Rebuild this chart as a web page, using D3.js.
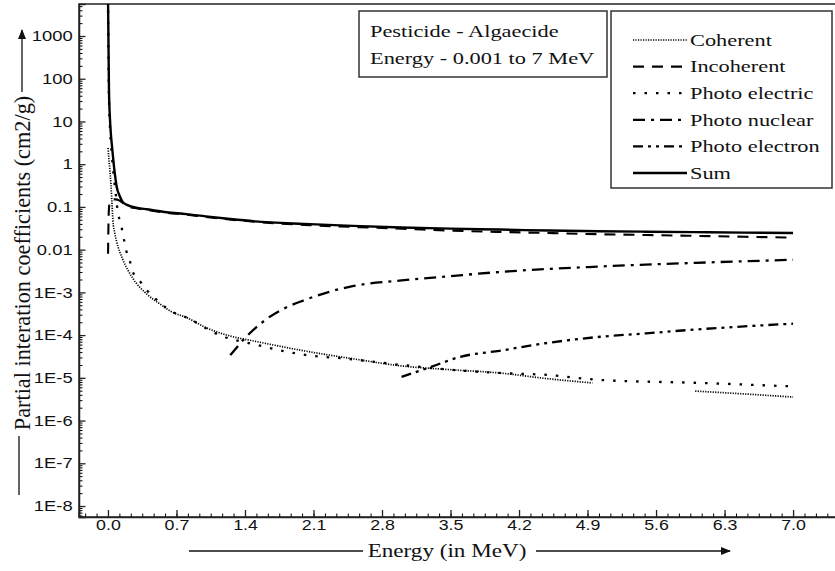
<!DOCTYPE html>
<html>
<head>
<meta charset="utf-8">
<script src="https://cdn.jsdelivr.net/npm/d3@7"></script>
<style>
body { margin: 0; background: #fff; }
text { fill: #111; }
.tick text { font-family: "Liberation Sans", Arial, sans-serif; }
.serif { font-family: "Liberation Serif", "Times New Roman", serif; }
</style>
</head>
<body>
<svg id="chart" width="835" height="571"></svg>
<script>
// horizontal stretch of the original picture's lettering
var SX = 1.27;

var xTicks = [0, 0.7, 1.4, 2.1, 2.8, 3.5, 4.2, 4.9, 5.6, 6.3, 7.0];
var yTicks = [1e3, 1e2, 1e1, 1, 1e-1, 1e-2, 1e-3, 1e-4, 1e-5, 1e-6, 1e-7, 1e-8];
var yTickLabels = ['1000', '100', '10', '1', '0.1', '0.01', '1E-3', '1E-4', '1E-5', '1E-6', '1E-7', '1E-8'];
var seriesNames = ['Coherent', 'Incoherent', 'Photo electric', 'Photo nuclear', 'Photo electron', 'Sum'];

var coherentE = [0.001, 0.01, 0.02, 0.03, 0.04, 0.05, 0.07, 0.09, 0.15, 0.25, 0.4, 0.55, 0.65, 0.8, 1.0, 1.25, 1.5, 2.0, 2.5, 3.0, 3.5, 4.0, 4.5, 4.95, 5.5, 6.0, 6.5, 7.0];
var coherentV = [2.4, 1.3, 0.7, 0.35, 0.13, 0.05, 0.024, 0.015, 0.006, 0.0022, 9e-4, 5e-4, 3.5e-4, 2.6e-4, 1.5e-4, 9.5e-5, 7.2e-5, 4.3e-5, 2.8e-5, 1.9e-5, 1.55e-5, 1.3e-5, 9.5e-6, 7.6e-6, null, 4.9e-6, 4.2e-6, 3.55e-6];

var incoherentE = [0.001, 0.003, 0.006, 0.01, 0.02, 0.04, 0.08, 0.12, 0.2, 0.3, 0.4, 0.6, 0.8, 1.0, 1.5, 2.0, 2.5, 3.0, 3.5, 4.0, 4.5, 5.0, 5.5, 6.0, 6.5, 7.0];
var incoherentV = [0.008, 0.02, 0.05, 0.09, 0.13, 0.15, 0.15, 0.14, 0.105, 0.092, 0.085, 0.073, 0.066, 0.058, 0.045, 0.038, 0.034, 0.031, 0.028, 0.026, 0.0245, 0.023, 0.022, 0.021, 0.02, 0.0192];

var photoElectricE = [0.001, 0.01, 0.02, 0.04, 0.06, 0.08, 0.1, 0.13, 0.16, 0.19, 0.22, 0.26, 0.3, 0.4, 0.48, 0.63, 0.8, 1.14, 1.52, 2.03, 2.44, 3.0, 3.57, 4.0, 4.49, 5.03, 6.05, 6.92, 7.0];
var photoElectricV = [4000, 40, 8, 1.6, 0.5, 0.2, 0.076, 0.042, 0.019, 0.0088, 0.0057, 0.0028, 0.0022, 0.0011, 7.3e-4, 3.8e-4, 2.6e-4, 1.0e-4, 5.9e-5, 3.4e-5, 2.8e-5, 2.0e-5, 1.5e-5, 1.3e-5, 1.17e-5, 8.9e-6, 7.6e-6, 6.4e-6, 6.3e-6];

var photoNuclearE = [1.25, 1.4, 1.6, 1.8, 2.0, 2.5, 3.0, 3.5, 4.0, 5.0, 6.0, 7.0];
var photoNuclearV = [3.4e-5, 8.5e-5, 2.2e-4, 4.2e-4, 6.5e-4, 1.4e-3, 1.9e-3, 2.4e-3, 3.0e-3, 4.0e-3, 4.9e-3, 5.8e-3];

var photoElectronE = [3.0, 3.3, 3.6, 4.0, 4.5, 5.0, 5.5, 6.0, 6.5, 7.0];
var photoElectronV = [1.05e-5, 1.8e-5, 3.1e-5, 4.3e-5, 6.6e-5, 9.0e-5, 1.1e-4, 1.35e-4, 1.6e-4, 1.85e-4];

var sumE = [0.001, 0.01, 0.02, 0.03, 0.04, 0.05, 0.07, 0.09, 0.12, 0.15, 0.2, 0.3, 0.4, 0.6, 0.8, 1.0, 1.25, 1.5, 2.0, 2.5, 3.0, 3.5, 4.0, 4.5, 5.0, 5.5, 6.0, 6.5, 7.0];
var sumV = [6000, 60, 12, 5, 2.8, 1.6, 0.6, 0.29, 0.18, 0.13, 0.11, 0.095, 0.088, 0.075, 0.068, 0.06, 0.052, 0.046, 0.04, 0.036, 0.033, 0.031, 0.0295, 0.028, 0.027, 0.0263, 0.0257, 0.025, 0.0245];

function zip(es, vs){
	return es.map(function(e, i){ return {e: e, v: vs[i]}; });
}

var series = [
	{name: seriesNames[0], data: zip(coherentE, coherentV), dash: '1.2,1.3', width: 1.7},
	{name: seriesNames[1], data: zip(incoherentE, incoherentV), dash: '11,8', width: 2.1},
	{name: seriesNames[2], data: zip(photoElectricE, photoElectricV), dash: '2.5,9', width: 2.3},
	{name: seriesNames[3], data: zip(photoNuclearE, photoNuclearV), dash: '12,6,3,6', width: 2.3},
	{name: seriesNames[4], data: zip(photoElectronE, photoElectronV), dash: '10,5,3,5,3,5', width: 2.3},
	{name: seriesNames[5], data: zip(sumE, sumV), dash: null, width: 2.4}
];

var svg = d3.select('#chart');
var plotLeft = 79, plotTop = 4, plotBottom = 517, plotRight = 842;

var x = d3.scaleLinear().domain([-0.296, 7.5]).range([plotLeft, plotRight]);
var y = d3.scaleLog().domain([Math.pow(10, -8.257), Math.pow(10, 3.749)]).range([plotBottom, plotTop]);

var defs = svg.append('defs');
defs.append('clipPath').attr('id', 'plot-clip')
	.append('rect')
	.attr('x', plotLeft).attr('y', plotTop)
	.attr('width', plotRight - plotLeft).attr('height', plotBottom - plotTop);

var arrow = defs.append('marker')
	.attr('id', 'arrowhead')
	.attr('viewBox', '0 0 10 8')
	.attr('refX', 9).attr('refY', 4)
	.attr('markerWidth', 10).attr('markerHeight', 8)
	.attr('markerUnits', 'userSpaceOnUse')
	.attr('orient', 'auto');
arrow.append('path').attr('d', 'M0,0 L10,4 L0,8 Z').attr('fill', '#111');

// frame
svg.append('rect')
	.attr('x', plotLeft).attr('y', plotTop)
	.attr('width', plotRight - plotLeft).attr('height', plotBottom - plotTop)
	.attr('fill', 'none').attr('stroke', '#222').attr('stroke-width', 1.5);

// minor ticks along x
var minorX = d3.range(-2, 64).map(function(i){ return i * 0.7 / 6; })
	.filter(function(v){ return x(v) > plotLeft + 1 && x(v) < plotRight; });

svg.append('g')
	.attr('transform', 'translate(0,' + plotBottom + ')')
	.call(d3.axisBottom(x).tickValues(minorX).tickSize(-3.5).tickFormat(''))
	.call(function(g){ g.select('.domain').remove(); });

var xAxis = svg.append('g')
	.attr('transform', 'translate(0,' + plotBottom + ')')
	.call(d3.axisBottom(x).tickValues(xTicks).tickSize(-7).tickPadding(3)
		.tickFormat(d3.format('.1f')));
xAxis.select('.domain').attr('stroke', '#222').attr('stroke-width', 1.5);
xAxis.selectAll('.tick line').attr('stroke', '#222').attr('stroke-width', 1.3);
xAxis.selectAll('.tick text')
	.attr('font-size', 14)
	.attr('transform', 'scale(' + SX + ',1)');

// minor log ticks along y
var minorY = [];
d3.range(-9, 4).forEach(function(p){
	d3.range(2, 10).forEach(function(m){ minorY.push(m * Math.pow(10, p)); });
});
minorY = minorY.filter(function(v){ return y(v) > plotTop && y(v) < plotBottom; });

svg.append('g')
	.attr('transform', 'translate(' + plotLeft + ',0)')
	.call(d3.axisLeft(y).tickValues(minorY).tickSize(-3.5).tickFormat(''))
	.call(function(g){ g.select('.domain').remove(); });

var yAxis = svg.append('g')
	.attr('transform', 'translate(' + plotLeft + ',0)')
	.call(d3.axisLeft(y).tickValues(yTicks).tickSize(-6.5).tickPadding(5)
		.tickFormat(function(d, i){ return yTickLabels[i]; }));
yAxis.select('.domain').attr('stroke', '#222').attr('stroke-width', 1.5);
yAxis.selectAll('.tick line').attr('stroke', '#222').attr('stroke-width', 1.3);
yAxis.selectAll('.tick text')
	.attr('font-size', 14.5)
	.attr('transform', 'scale(' + SX + ',1)');

// curves
var line = d3.line()
	.defined(function(d){ return d.v != null; })
	.x(function(d){ return x(d.e); })
	.y(function(d){ return y(d.v); })
	.curve(d3.curveMonotoneX);

svg.append('g').attr('clip-path', 'url(#plot-clip)')
	.selectAll('path')
	.data(series)
	.enter()
	.append('path')
	.attr('d', function(s){ return line(s.data); })
	.attr('fill', 'none')
	.attr('stroke', '#000')
	.attr('stroke-width', function(s){ return s.width; })
	.attr('stroke-dasharray', function(s){ return s.dash; });

// info box
svg.append('rect')
	.attr('x', 359).attr('y', 11).attr('width', 248).attr('height', 66)
	.attr('fill', '#fff').attr('stroke', '#333').attr('stroke-width', 1.5);

svg.selectAll('.info')
	.data(['Pesticide - Algaecide', 'Energy - 0.001 to 7 MeV'])
	.enter()
	.append('text')
	.attr('class', 'info serif')
	.attr('font-size', 17.6)
	.attr('transform', function(d, i){ return 'translate(370,' + (37 + i * 27) + ') scale(' + SX + ',1)'; })
	.text(function(d){ return d; });

// legend
var legend = svg.append('g');
legend.append('rect')
	.attr('x', 611).attr('y', 11).attr('width', 221).attr('height', 177)
	.attr('fill', '#fff').attr('stroke', '#333').attr('stroke-width', 1.5);

var rows = legend.selectAll('.row')
	.data(series)
	.enter()
	.append('g')
	.attr('class', 'row')
	.attr('transform', function(s, i){ return 'translate(0,' + (40 + i * 26.6) + ')'; });

rows.append('line')
	.attr('x1', 633).attr('x2', 687)
	.attr('stroke', '#000')
	.attr('stroke-width', function(s){ return s.width; })
	.attr('stroke-dasharray', function(s){ return s.dash; });

rows.append('text')
	.attr('class', 'serif')
	.attr('font-size', 17.6)
	.attr('dy', '0.33em')
	.attr('transform', 'translate(690,0) scale(' + SX + ',1)')
	.text(function(s){ return s.name; });

// x title with its arrow
svg.append('text')
	.attr('class', 'serif')
	.attr('font-size', 18.2)
	.attr('text-anchor', 'middle')
	.attr('transform', 'translate(447,557) scale(' + SX + ',1)')
	.text('Energy (in MeV)');
svg.append('line')
	.attr('x1', 189).attr('x2', 363).attr('y1', 551).attr('y2', 551)
	.attr('stroke', '#111').attr('stroke-width', 1.3);
svg.append('line')
	.attr('x1', 536).attr('x2', 730).attr('y1', 551).attr('y2', 551)
	.attr('stroke', '#111').attr('stroke-width', 1.3)
	.attr('marker-end', 'url(#arrowhead)');

// y title with its arrow
svg.append('text')
	.attr('class', 'serif')
	.attr('font-size', 22.3)
	.attr('text-anchor', 'middle')
	.attr('transform', 'translate(30,263) rotate(-90)')
	.text('Partial interation coefficients (cm2/g)');
svg.append('line')
	.attr('x1', 19).attr('x2', 19).attr('y1', 436).attr('y2', 495)
	.attr('stroke', '#111').attr('stroke-width', 1.3);
svg.append('line')
	.attr('x1', 22).attr('x2', 22).attr('y1', 92).attr('y2', 30)
	.attr('stroke', '#111').attr('stroke-width', 1.3)
	.attr('marker-end', 'url(#arrowhead)');
</script>
</body>
</html>
